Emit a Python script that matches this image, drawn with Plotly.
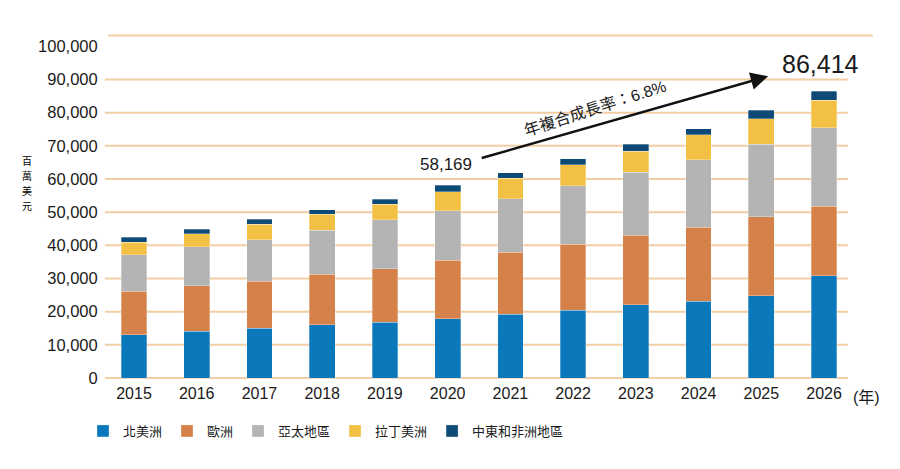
import plotly.graph_objects as go

years = ["2015", "2016", "2017", "2018", "2019", "2020", "2021", "2022", "2023", "2024", "2025", "2026"]
north_america = [13100, 14100, 15000, 16100, 16800, 17900, 19300, 20500, 22100, 23200, 24800, 30800]
europe = [13100, 13700, 14200, 15200, 16100, 17600, 18600, 19800, 21000, 22200, 23800, 21000]
asia_pacific = [10900, 11800, 12500, 13300, 14800, 14900, 16100, 17600, 19000, 20400, 21900, 23700]
latin_america = [3800, 3900, 4700, 4700, 4700, 5800, 6200, 6400, 6200, 7600, 7700, 8200]
mea = [1500, 1400, 1500, 1400, 1500, 1970, 1700, 1800, 2200, 1800, 2500, 2700]

series_names = ["北美洲", "歐洲", "亞太地區", "拉丁美洲", "中東和非洲地區"]
series_values = [north_america, europe, asia_pacific, latin_america, mea]
colors = ["#0A78BA", "#D4824A", "#B4B4B4", "#F2C043", "#0E4A76"]

y_ticks = list(range(0, 100001, 10000))
grid_ticks = y_ticks[:-1]
start_label = "58,169"
end_label = "86,414"
cagr_label = "年複合成長率：6.8%"
y_title = "百萬美元"

W, H = 900, 469
L, R, T, B = 105, 52, 43, 87
PH = H - T - B
PW = W - L - R

def px_x(p):
    return (p - L) / PW

def px_y(p):
    return (H - B - p) / PH

latin = "Liberation Sans, Arial, Helvetica, sans-serif"
cjk = "Noto Sans CJK TC, Noto Sans CJK SC, sans-serif"
mixed = "Liberation Sans, Noto Sans CJK TC, sans-serif"
txt = "#1a1a1a"

fig = go.Figure()
for name, vals, c in zip(series_names, series_values, colors):
    fig.add_trace(go.Bar(
        x=years, y=vals, name=name,
        marker=dict(color=c, line=dict(width=0.5, color="rgba(255,255,255,0.6)")),
        width=0.41,
    ))

shapes = []
for g in grid_ticks:
    shapes.append(dict(type="line", xref="paper", yref="y", x0=0, x1=1, y0=g, y1=g,
                       line=dict(color="#F3CDA3", width=2), layer="below"))
# top border line
shapes.append(dict(type="line", xref="paper", yref="paper", x0=px_x(108), x1=px_x(873),
                   y0=px_y(35.5), y1=px_y(35.5), line=dict(color="#F3CDA3", width=2), layer="below"))

def note(px, py, text, font, **kw):
    d = dict(x=px_x(px), y=px_y(py), xref="paper", yref="paper", text=text,
             showarrow=False, xanchor="center", yanchor="middle", font=font, borderpad=0)
    d.update(kw)
    return d

annotations = [
    dict(x=10.11, y=91000, ax=5.52, ay=66200, xref="x", yref="y", axref="x", ayref="y",
         text="", showarrow=True, arrowhead=2, arrowsize=1.4, arrowwidth=2.5,
         arrowcolor="#111111", standoff=0),
    note(446, 164.5, start_label, dict(family=latin, size=17, color=txt)),
    note(820, 64, end_label, dict(family=latin, size=25, color=txt)),
    note(595, 109, cagr_label, dict(family=mixed, size=16, color=txt), textangle=-18),
    note(866, 397, "(年)", dict(family=mixed, size=16, color=txt)),
]
# vertical (stacked) y-axis title, one character per line
for i, ch in enumerate(y_title):
    annotations.append(note(27, 160 + 15 * i, ch, dict(family=cjk, size=10, color="#000000")))

fig.update_layout(
    width=W, height=H,
    margin=dict(l=L, r=R, t=T, b=B, pad=0),
    plot_bgcolor="white", paper_bgcolor="white",
    barmode="stack",
    shapes=shapes,
    annotations=annotations,
    xaxis=dict(type="category", range=[-0.462, 11.382], showgrid=False, zeroline=False,
               showline=False, ticks="", tickfont=dict(family=latin, size=16, color=txt)),
    yaxis=dict(range=[-1200, 101000], tickvals=y_ticks, tickformat=",", showgrid=False,
               zeroline=False, showline=False, ticks="outside", ticklen=3,
               tickcolor="rgba(0,0,0,0)", tickfont=dict(family=latin, size=16.5, color=txt)),
    legend=dict(orientation="h", x=px_x(83), xanchor="left", y=px_y(431), yanchor="middle",
                font=dict(family=cjk, size=13, color=txt), traceorder="normal",
                itemwidth=30, bgcolor="rgba(0,0,0,0)"),
    showlegend=True,
)

fig.write_html("out.html")
